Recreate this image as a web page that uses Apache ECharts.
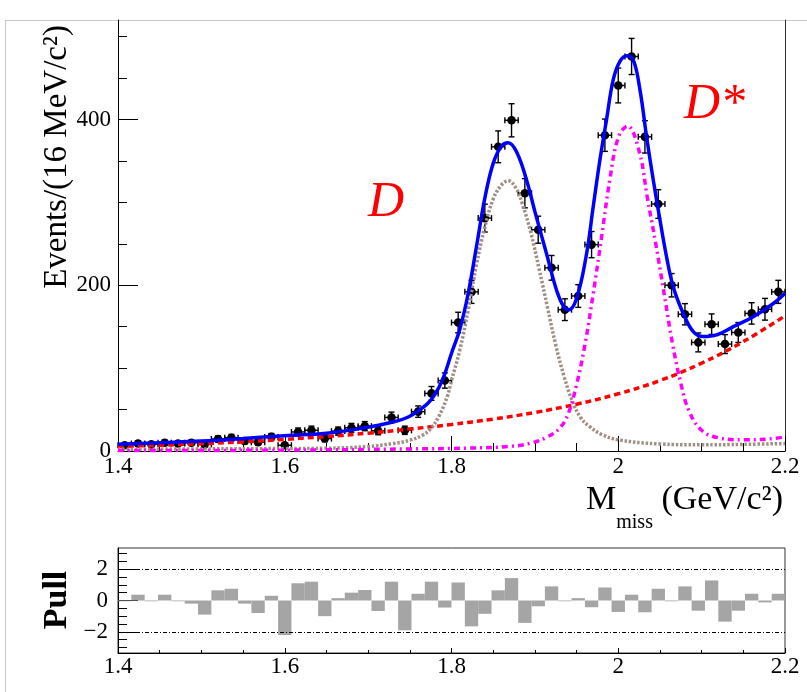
<!DOCTYPE html>
<html><head><meta charset="utf-8">
<script src="https://cdn.jsdelivr.net/npm/echarts@6/dist/echarts.min.js"></script>
<style>html,body{margin:0;padding:0;background:#fff}#c{width:807px;height:692px}</style>
</head><body><div id="c"></div>
<script>
// ---- data ----
const binCenters = [1.408,1.424,1.440,1.456,1.472,1.488,1.504,1.520,1.536,1.552,1.568,1.584,1.600,1.616,1.632,1.648,1.664,1.680,1.696,1.712,1.728,1.744,1.760,1.776,1.792,1.808,1.824,1.840,1.856,1.872,1.888,1.904,1.920,1.936,1.952,1.968,1.984,2.000,2.016,2.032,2.048,2.064,2.080,2.096,2.112,2.128,2.144,2.160,2.176,2.192];
const binHalfWidth = 0.008;
const counts = [7,9,8,10,9,10,8,14.5,16,12,10.5,17,7,23,25,15,24,28,30,24.5,40.5,25,47.5,69.5,85,155,192,281,367,399,311,267,221,170.5,187,249,381,441,476,379,298,200,165,131,153,129,143,166,171,192];
const countErrors = [2.6,3.0,2.8,3.2,3.0,3.2,2.8,3.8,4.0,3.5,3.2,4.1,2.6,4.8,5.0,3.9,4.9,5.3,5.5,4.9,6.4,5.0,6.9,8.3,9.2,12.4,13.9,16.8,19.2,20.0,17.6,16.3,14.9,13.1,13.7,15.8,19.5,21.0,21.8,19.5,17.3,14.1,12.8,11.4,12.4,11.4,12.0,12.9,13.1,13.9];
const pulls = [-0.05,0.37,-0.05,0.37,-0.05,-0.2,-0.9,0.65,0.75,-0.2,-0.8,0.3,-2.2,1.1,1.2,-1.0,0.15,0.5,0.67,-0.67,1.2,-1.9,0.43,1.2,-0.45,1.15,-1.65,-0.85,0.65,1.43,-1.43,-0.37,0.9,-0.05,0.15,-0.43,0.83,-0.73,0.37,-0.75,0.75,-0.05,0.9,-0.65,1.28,-1.35,-0.65,0.43,-0.12,0.43];

const totX = [1.40,1.45,1.50,1.55,1.60,1.65,1.69,1.73,1.75,1.77,1.78,1.79,1.80,1.81,1.82,1.83,1.84,1.85,1.86,1.868,1.878,1.89,1.90,1.914,1.926,1.934,1.94,1.95,1.962,1.97,1.978,1.986,1.994,2.002,2.01,2.018,2.026,2.034,2.042,2.05,2.058,2.066,2.078,2.09,2.102,2.118,2.138,2.162,2.186,2.20];
const totY = [8,10,12,15,18.5,21.5,27,35,42,56,68,88,118,147,190,247,305,347,368,372,361,327,289,238,194,175,170,184,238,295,351,400,448,470,477,472,436,379,327,279,234,198,166,144,138,140,150,162,178,190];
const bkgX = [1.40,1.45,1.50,1.55,1.60,1.65,1.70,1.75,1.80,1.85,1.90,1.95,2.00,2.05,2.10,2.15,2.20];
const bkgY = [5.5,7,8.8,11,14,17.5,21.5,26.5,32,38.5,46.5,56.5,69,85,106,132,163];
const dX = [1.40,1.50,1.60,1.65,1.70,1.73,1.75,1.765,1.775,1.785,1.795,1.80,1.81,1.82,1.83,1.84,1.85,1.86,1.868,1.878,1.885,1.895,1.905,1.915,1.925,1.935,1.945,1.955,1.965,1.98,2.00,2.05,2.10,2.15,2.20];
const dY = [2,2.5,3,3.3,5.5,9,13,19,27,42,66,85,122,170,225,270,304,321,326,316,298,264,220,174,128,90,60,40,30,20,13.5,8.5,7.5,8,9];
const dsX = [1.40,1.60,1.75,1.82,1.87,1.895,1.915,1.93,1.94,1.95,1.96,1.97,1.98,1.99,2.00,2.011,2.025,2.035,2.045,2.055,2.065,2.075,2.085,2.10,2.12,2.15,2.18,2.20];
const dsY = [0.5,1,2.5,3.5,5.5,9.5,17,28,45,80,128,190,258,328,378,392,362,305,250,190,130,82,48,25,16,13.5,14.5,17];

const mainYTicks = [0,200,400];
const mainYMinor = [50,100,150,250,300,350,450,500];
const pullYTicks = [-2,0,2];
const pullYMinor = [-3,-2.5,-1.5,-1,-0.5,0.5,1,1.5,2.5,3];
const pullRefLevels = [2,-2];

// ---- chart ----
const FF = '"Liberation Serif","Times New Roman",serif';
const chart = echarts.init(document.getElementById('c'), null, {renderer:'canvas'});
const pts = (xs, ys) => xs.map((x,i)=>[x, ys[i]]);
const fmtX = v => String(Math.round(v*100)/100);
const black = {color:'#000', width:1};

function renderPoint(params, api) {
  const x = api.value(0), y = api.value(1), e = api.value(2);
  const c = api.coord([x, y]);
  const t = api.coord([x, y + e]);
  const b = api.coord([x, Math.max(0, y - e)]);
  const l = api.coord([x - binHalfWidth, y]);
  const r = api.coord([x + binHalfWidth, y]);
  const cap = 3;
  const ls = {stroke:'#000', lineWidth:1.4};
  return {type:'group', children:[
    {type:'line', shape:{x1:c[0],y1:t[1],x2:c[0],y2:b[1]}, style:ls},
    {type:'line', shape:{x1:c[0]-cap,y1:t[1],x2:c[0]+cap,y2:t[1]}, style:ls},
    {type:'line', shape:{x1:c[0]-cap,y1:b[1],x2:c[0]+cap,y2:b[1]}, style:ls},
    {type:'line', shape:{x1:l[0],y1:c[1],x2:r[0],y2:c[1]}, style:ls},
    {type:'line', shape:{x1:l[0],y1:c[1]-cap,x2:l[0],y2:c[1]+cap}, style:ls},
    {type:'line', shape:{x1:r[0],y1:c[1]-cap,x2:r[0],y2:c[1]+cap}, style:ls},
    {type:'circle', shape:{cx:c[0],cy:c[1],r:4.3}, style:{fill:'#000'}}
  ]};
}
function renderPull(params, api) {
  const x = api.value(0), v = api.value(1);
  const p0 = api.coord([x - binHalfWidth, 0]);
  const p1 = api.coord([x + binHalfWidth, v]);
  return {type:'rect', shape:{x:p0[0], y:Math.min(p0[1],p1[1]), width:p1[0]-p0[0], height:Math.abs(p1[1]-p0[1])}, style:{fill:'#a5a5a5'}};
}

const option = {
  animation:false,
  backgroundColor:'#fff',
  grid:[
    {left:118, top:20, right:22, height:431, outerBoundsMode:'none', containLabel:false},
    {left:118, top:548, right:22, height:105, show:true, borderColor:'#333', borderWidth:1, outerBoundsMode:'none', containLabel:false}
  ],
  xAxis:[
    {gridIndex:0, type:'value', min:1.4, max:2.2, interval:0.2,
     axisLine:{onZero:false, lineStyle:black},
     axisTick:{inside:true, length:15, lineStyle:black},
     minorTick:{show:true, splitNumber:4, length:8, lineStyle:black},
     axisLabel:{margin:4, fontSize:23, fontFamily:FF, color:'#000', formatter:fmtX},
     splitLine:{show:false}},
    {gridIndex:1, type:'value', min:1.4, max:2.2, interval:0.2,
     axisLine:{onZero:false, lineStyle:black},
     axisTick:{inside:true, length:5, lineStyle:black},
     minorTick:{show:true, splitNumber:4, length:3, lineStyle:black},
     axisLabel:{margin:2, fontSize:23, fontFamily:FF, color:'#000', formatter:fmtX},
     splitLine:{show:false}}
  ],
  yAxis:[
    {gridIndex:0, type:'value', min:0, max:520, position:'left',
     axisLine:{show:true, onZero:false, lineStyle:black},
     axisTick:{show:true, inside:true, length:20, customValues:mainYTicks, lineStyle:black},
     axisLabel:{margin:7, fontSize:23, fontFamily:FF, color:'#000', customValues:mainYTicks},
     splitLine:{show:false}},
    {gridIndex:0, type:'value', min:0, max:520, position:'left', offset:0,
     axisLine:{show:false},
     axisTick:{show:true, inside:true, length:9, customValues:mainYMinor, lineStyle:black},
     axisLabel:{show:false}, splitLine:{show:false}},
    {gridIndex:0, type:'value', min:0, max:520, position:'right',
     axisLine:{show:true, onZero:false, lineStyle:{color:'#333', width:1}},
     axisTick:{show:false}, axisLabel:{show:false}, splitLine:{show:false}},
    {gridIndex:1, type:'value', min:-3.35, max:3.35, position:'left',
     axisLine:{show:true, onZero:false, lineStyle:black},
     axisTick:{show:true, inside:true, length:20, customValues:pullYTicks, lineStyle:black},
     axisLabel:{margin:10, fontSize:23, fontFamily:FF, color:'#000', customValues:pullYTicks,
       formatter: v => String(v).replace('-', '\u2212')},
     splitLine:{show:false}},
    {gridIndex:1, type:'value', min:-3.35, max:3.35, position:'left', offset:0,
     axisLine:{show:false},
     axisTick:{show:true, inside:true, length:9, customValues:pullYMinor, lineStyle:black},
     axisLabel:{show:false}, splitLine:{show:false}}
  ],
  series:[
    {type:'custom', name:'data', xAxisIndex:0, yAxisIndex:0, renderItem:renderPoint, z:3,
     data: binCenters.map((x,i)=>[x, counts[i], countErrors[i]])},
    {type:'line', name:'bkg', xAxisIndex:0, yAxisIndex:0, data:pts(bkgX,bkgY), smooth:0.4, symbol:'none', z:4,
     lineStyle:{color:'#ff0000', width:3.5, type:[6,4]}},
    {type:'line', name:'D', xAxisIndex:0, yAxisIndex:0, data:pts(dX,dY), smooth:0.4, symbol:'none', z:4,
     lineStyle:{color:'#9f8f85', width:3.5, type:[2.5,1.8]}},
    {type:'line', name:'Dstar', xAxisIndex:0, yAxisIndex:0, data:pts(dsX,dsY), smooth:0.4, symbol:'none', z:4,
     lineStyle:{color:'#ff00ff', width:3.5, type:[6,4,2,4]}},
    {type:'line', name:'total', xAxisIndex:0, yAxisIndex:0, data:pts(totX,totY), smooth:0.4, symbol:'none', z:5,
     lineStyle:{color:'#0000ff', width:3.5}},
    {type:'custom', name:'pull', xAxisIndex:1, yAxisIndex:3, renderItem:renderPull, z:3,
     data: binCenters.map((x,i)=>[x, pulls[i]])},
    {type:'line', name:'ref', xAxisIndex:1, yAxisIndex:3, data:[], symbol:'none', z:4,
     markLine:{silent:true, symbol:'none', label:{show:false},
       lineStyle:{color:'#000', width:1, type:[4,2,1,2]},
       data: pullRefLevels.map(v=>({yAxis:v}))}}
  ],
  graphic:[
    {type:'line', shape:{x1:5,y1:20.5,x2:807,y2:20.5}, style:{stroke:'#c8c8c8', lineWidth:1}, silent:true},
    {type:'line', shape:{x1:5.5,y1:20,x2:5.5,y2:692}, style:{stroke:'#c8c8c8', lineWidth:1}, silent:true},
    {type:'text', x:57, y:157, rotation:Math.PI/2, silent:true,
     style:{text:'Events/(16 MeV/c\u00b2)', fontSize:33, fontFamily:FF, fill:'#000', align:'center', verticalAlign:'middle', textAlign:'center', textVerticalAlign:'middle'}},
    {type:'text', x:57, y:600, rotation:Math.PI/2, silent:true,
     style:{text:'Pull', fontSize:34, fontWeight:'bold', fontFamily:FF, fill:'#000', align:'center', verticalAlign:'middle', textAlign:'center', textVerticalAlign:'middle'}},
    {type:'text', x:783, y:483, silent:true,
     style:{text:'{m|M}{s|miss}{m| (GeV/c\u00b2)}', align:'right', verticalAlign:'top', textAlign:'right', textVerticalAlign:'top', fill:'#000',
       rich:{
         m:{fontSize:34, fontFamily:FF, lineHeight:34, verticalAlign:'top', fill:'#000'},
         s:{fontSize:20, fontFamily:FF, lineHeight:50, verticalAlign:'bottom', fill:'#000'}
       }}},
    {type:'text', x:368, y:203, silent:true,
     style:{text:'D', fontSize:50, fontStyle:'italic', fontFamily:FF, fill:'#ff0000', align:'left', verticalAlign:'middle', textAlign:'left', textVerticalAlign:'middle'}},
    {type:'text', x:684, y:105, silent:true,
     style:{text:'D*', fontSize:50, fontStyle:'italic', fontFamily:FF, fill:'#ff0000', align:'left', verticalAlign:'middle', textAlign:'left', textVerticalAlign:'middle'}}
  ]
};
chart.setOption(option);
</script>
</body></html>
